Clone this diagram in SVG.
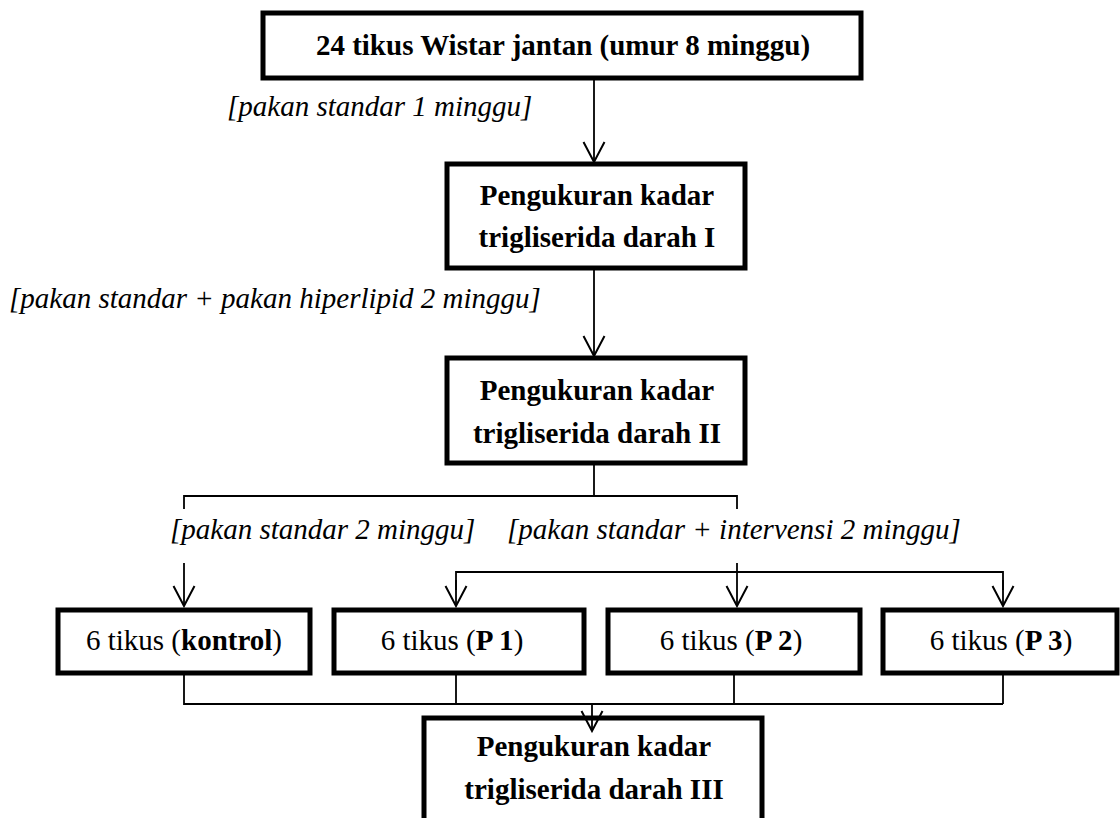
<svg xmlns="http://www.w3.org/2000/svg" width="1120" height="818" viewBox="0 0 1120 818">
<style>
.box{fill:#fff;stroke:#000;stroke-width:5}
.t{font-family:"Liberation Serif","Times New Roman",serif;font-size:29px;fill:#000;text-anchor:middle}
.b{font-weight:bold}
.lab{font-family:"Liberation Serif","Times New Roman",serif;font-size:29px;font-style:italic;fill:#000}
.c{fill:none;stroke:#000;stroke-width:1.8}
</style>
<defs>
<marker id="ah" markerWidth="24" markerHeight="24" refX="22" refY="12" orient="auto" markerUnits="userSpaceOnUse" viewBox="0 0 24 24">
<path d="M2,1.5 L22,12 L2,22.5" fill="none" stroke="#000" stroke-width="2"/>
</marker>
</defs>
<rect width="1120" height="818" fill="#fff"/>
<g id="labels">
<text class="lab" x="227" y="116">[pakan standar 1 minggu]</text>
<text class="lab" x="9" y="308">[pakan standar + pakan hiperlipid 2 minggu]</text>
<text class="lab" x="170" y="539">[pakan standar 2 minggu]</text>
<text class="lab" x="507" y="539">[pakan standar + intervensi 2 minggu]</text>
</g>
<g id="n1"><rect class="box" x="263" y="13" width="598" height="65"/><text class="t b" x="563" y="55">24 tikus Wistar jantan (umur 8 minggu)</text></g>
<g id="n2"><rect class="box" x="447" y="164" width="298" height="104"/><text class="t b" x="597" y="205">Pengukuran kadar</text><text class="t b" x="597" y="247">trigliserida darah I</text></g>
<g id="n3"><rect class="box" x="447" y="358" width="298" height="105"/><text class="t b" x="597" y="400">Pengukuran kadar</text><text class="t b" x="597" y="443">trigliserida darah II</text></g>
<g id="n4"><rect class="box" x="58" y="610" width="252" height="63"/><text class="t" x="184" y="650">6 tikus (<tspan class="b">kontrol</tspan>)</text></g>
<g id="n5"><rect class="box" x="334" y="610" width="250" height="63"/><text class="t" x="452" y="650">6 tikus (<tspan class="b">P 1</tspan>)</text></g>
<g id="n6"><rect class="box" x="608" y="610" width="252" height="63"/><text class="t" x="731" y="650">6 tikus (<tspan class="b">P 2</tspan>)</text></g>
<g id="n7"><rect class="box" x="883" y="610" width="234" height="63"/><text class="t" x="1001" y="650">6 tikus (<tspan class="b">P 3</tspan>)</text></g>
<g id="n8"><rect class="box" x="424" y="718" width="338" height="130"/><text class="t b" x="594" y="756">Pengukuran kadar</text><text class="t b" x="594" y="799">trigliserida darah III</text></g>
<g id="connectors">
<line class="c" x1="594" y1="80" x2="594" y2="162" marker-end="url(#ah)"/>
<line class="c" x1="594" y1="270" x2="594" y2="356" marker-end="url(#ah)"/>
<polyline class="c" points="594,465 594,496"/>
<polyline class="c" points="184,509 184,496 737,496 737,509"/>
<line class="c" x1="184" y1="563" x2="184" y2="606" marker-end="url(#ah)"/>
<line class="c" x1="737" y1="563" x2="737" y2="606" marker-end="url(#ah)"/>
<polyline class="c" points="456,590 456,572 1003,572 1003,590"/>
<line class="c" x1="456" y1="580" x2="456" y2="606" marker-end="url(#ah)"/>
<line class="c" x1="1003" y1="580" x2="1003" y2="606" marker-end="url(#ah)"/>
<polyline class="c" points="184,675 184,704 1003,704"/>
<line class="c" x1="456" y1="675" x2="456" y2="704"/>
<line class="c" x1="734" y1="675" x2="734" y2="704"/>
<line class="c" x1="1003" y1="675" x2="1003" y2="704"/>
<line class="c" x1="592" y1="704" x2="592" y2="731" marker-end="url(#ah)"/>
</g>
</svg>
